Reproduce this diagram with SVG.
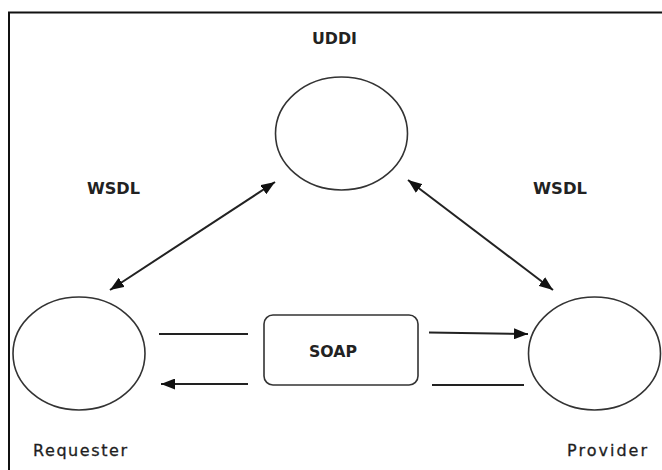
<svg xmlns="http://www.w3.org/2000/svg" width="662" height="470" viewBox="0 0 662 470">
  <defs>
    <marker id="arrow" viewBox="0 0 14 11" refX="14" refY="5.5" markerWidth="14" markerHeight="11" markerUnits="userSpaceOnUse" orient="auto-start-reverse">
      <path d="M0,0 L14,5.5 L0,11 z" fill="#111111"/>
    </marker>
    <style>
      .node { fill: #ffffff; stroke: #333333; stroke-width: 1.6; }
      .conn { fill: none; stroke: #222222; stroke-width: 2; }
      .lbl { font-family: "DejaVu Sans", Verdana, sans-serif; font-size: 15px; font-weight: bold; fill: #222222; }
      .name { font-family: "DejaVu Sans", Verdana, sans-serif; font-size: 16px; fill: #1e1e1e; stroke: #1e1e1e; stroke-width: 0.3; }
    </style>
  </defs>

  <rect width="662" height="470" fill="#ffffff"/>
  <!-- outer frame, open to the right and bottom -->
  <path d="M9,471 V12.5 H663" fill="none" stroke="#111111" stroke-width="2"/>

  <g id="uddi">
    <ellipse class="node" cx="341.5" cy="133.5" rx="66" ry="56.5"/>
    <text class="lbl" x="312" y="44" textLength="45" lengthAdjust="spacingAndGlyphs">UDDI</text>
  </g>

  <g id="requester">
    <ellipse class="node" cx="79" cy="353.5" rx="66" ry="56.5"/>
    <text class="name" x="33" y="456" textLength="94" lengthAdjust="spacing">Requester</text>
  </g>

  <g id="provider">
    <ellipse class="node" cx="594.5" cy="353.5" rx="66" ry="56.5"/>
    <text class="name" x="567" y="456" textLength="80" lengthAdjust="spacing">Provider</text>
  </g>

  <g id="soap">
    <rect class="node" x="264" y="315" width="154" height="70" rx="9" ry="9"/>
    <text class="lbl" x="309" y="357" textLength="48" lengthAdjust="spacingAndGlyphs">SOAP</text>
  </g>

  <g id="labels">
    <text class="lbl" x="87" y="194" textLength="53" lengthAdjust="spacingAndGlyphs">WSDL</text>
    <text class="lbl" x="533" y="194" textLength="54" lengthAdjust="spacingAndGlyphs">WSDL</text>
  </g>

  <g id="connectors">
    <line class="conn" x1="110" y1="290" x2="275" y2="182" marker-start="url(#arrow)" marker-end="url(#arrow)"/>
    <line class="conn" x1="408" y1="180" x2="553" y2="290" marker-start="url(#arrow)" marker-end="url(#arrow)"/>
    <line class="conn" x1="159" y1="334" x2="248" y2="334"/>
    <line class="conn" x1="429" y1="332.5" x2="528" y2="334" marker-end="url(#arrow)"/>
    <line class="conn" x1="248" y1="384" x2="161" y2="384" marker-end="url(#arrow)"/>
    <line class="conn" x1="432" y1="385" x2="524" y2="385"/>
  </g>
</svg>
